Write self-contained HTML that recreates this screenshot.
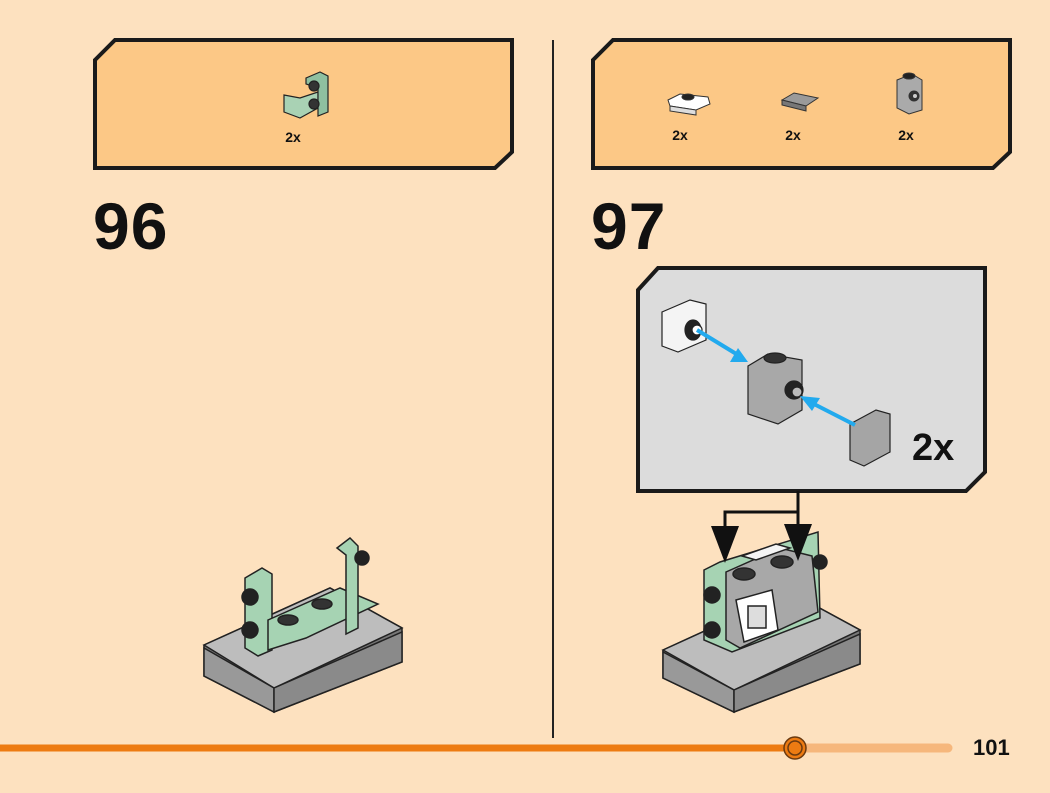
<!DOCTYPE html>
<html><head><style>html,body{margin:0;padding:0;background:#fde1bf;}svg{display:block}</style></head>
<body>
<svg width="1050" height="793" viewBox="0 0 1050 793" xmlns="http://www.w3.org/2000/svg" font-family="Liberation Sans, sans-serif">
<rect width="1050" height="793" fill="#fde1bf"/>
<polygon points="95,60 115,40 512,40 512,152 495,168 95,168" fill="#fcc886" stroke="#1a1a1a" stroke-width="4"/>
<polygon points="593,60 613,40 1010,40 1010,152 993,168 593,168" fill="#fcc886" stroke="#1a1a1a" stroke-width="4"/>
<line x1="553" y1="40" x2="553" y2="738" stroke="#222" stroke-width="2"/>
<g stroke="#222" stroke-width="1.2">
<polygon points="284,95 284,112 300,118 318,108 318,92 300,98" fill="#a9d2b4"/>
<polygon points="306,78 320,72 328,76 328,112 318,116 318,88 306,84" fill="#8fc0a0"/>
<circle cx="314" cy="86" r="5" fill="#333"/><circle cx="314" cy="104" r="5" fill="#333"/>
</g>
<text x="293" y="142" font-size="14" font-weight="bold" text-anchor="middle" fill="#111">2x</text>
<g stroke="#333" stroke-width="1">
<polygon points="668,100 680,94 708,97 710,104 696,110 670,106" fill="#fff"/>
<polygon points="670,106 696,110 696,115 670,111" fill="#ddd"/>
<ellipse cx="688" cy="97" rx="6" ry="3" fill="#222"/>
<polygon points="782,100 794,93 818,98 806,106" fill="#9a9a9a"/>
<polygon points="782,100 806,106 806,111 782,105" fill="#777"/>
<polygon points="897,80 912,74 922,80 922,110 909,114 897,108" fill="#aaa"/>
<ellipse cx="909" cy="76" rx="6" ry="3" fill="#222"/>
<circle cx="914" cy="96" r="5" fill="#333"/><circle cx="915" cy="96" r="2.5" fill="#ccc"/>
</g>
<text x="680" y="140" font-size="14" font-weight="bold" text-anchor="middle" fill="#111">2x</text>
<text x="793" y="140" font-size="14" font-weight="bold" text-anchor="middle" fill="#111">2x</text>
<text x="906" y="140" font-size="14" font-weight="bold" text-anchor="middle" fill="#111">2x</text>
<text x="93" y="249" font-size="66" font-weight="bold" fill="#111" letter-spacing="1">96</text>
<text x="591" y="249" font-size="66" font-weight="bold" fill="#111" letter-spacing="1">97</text>
<polygon points="638,290 658,268 985,268 985,472 966,491 638,491" fill="#dcdcdc" stroke="#1a1a1a" stroke-width="4"/>
<g stroke="#222" stroke-width="1.2">
<polygon points="662,312 690,300 706,304 706,340 678,352 662,346" fill="#f4f4f4"/>
<ellipse cx="693" cy="330" rx="8" ry="10" fill="#222"/><circle cx="697" cy="330" r="5" fill="#fff"/>
<polygon points="748,366 768,354 802,360 802,410 778,424 748,414" fill="#a8a8a8"/>
<ellipse cx="775" cy="358" rx="11" ry="5" fill="#333"/>
<circle cx="794" cy="390" r="9" fill="#222"/><circle cx="797" cy="392" r="5" fill="#bbb"/>
<polygon points="850,424 876,410 890,414 890,452 864,466 850,460" fill="#a5a5a5"/>
</g>
<line x1="697" y1="330" x2="738" y2="355" stroke="#22aaee" stroke-width="4"/>
<polygon points="748,362 730,362 738,348" fill="#22aaee"/>
<line x1="855" y1="425" x2="810" y2="402" stroke="#22aaee" stroke-width="4"/>
<polygon points="800,396 820,398 812,411" fill="#22aaee"/>
<text x="912" y="460" font-size="38" font-weight="bold" fill="#111">2x</text>
<!-- model 96 -->
<g stroke="#222" stroke-width="1.5">
<polygon points="204,645 330,588 402,628 402,662 274,712 204,676" fill="#777"/>
<polygon points="204,645 330,588 402,628 274,688" fill="#bdbdbd"/>
<polygon points="204,648 274,688 274,712 204,676" fill="#999"/>
<polygon points="274,688 402,632 402,662 274,712" fill="#8a8a8a"/>
<polygon points="245,578 262,568 272,574 272,650 258,656 245,648" fill="#a6d3b3"/>
<polygon points="268,620 340,588 378,604 306,638 268,650" fill="#a6d3b3"/>
<polygon points="337,548 350,538 358,546 358,628 346,634 346,555" fill="#a6d3b3"/>
<ellipse cx="288" cy="620" rx="10" ry="5" fill="#333"/>
<ellipse cx="322" cy="604" rx="10" ry="5" fill="#333"/>
<circle cx="250" cy="597" r="8" fill="#222"/><circle cx="250" cy="630" r="8" fill="#222"/>
<circle cx="362" cy="558" r="7" fill="#222"/>
</g>
<!-- model 97 -->
<g stroke="#222" stroke-width="1.5">
<polygon points="663,650 790,592 860,630 860,664 734,712 663,678" fill="#777"/>
<polygon points="663,650 790,592 860,630 734,690" fill="#bdbdbd"/>
<polygon points="663,652 734,690 734,712 663,678" fill="#999"/>
<polygon points="734,690 860,634 860,664 734,712" fill="#8a8a8a"/>
<polygon points="704,570 720,562 818,532 820,618 732,652 704,640" fill="#a6d3b3"/>
<polygon points="726,572 780,548 812,556 818,612 740,648 726,640" fill="#a8a8a8"/>
<polygon points="742,556 776,544 790,548 756,560" fill="#f4f4f4"/>
<ellipse cx="744" cy="574" rx="11" ry="6" fill="#333"/>
<ellipse cx="782" cy="562" rx="11" ry="6" fill="#333"/>
<polygon points="736,600 772,590 778,630 744,642" fill="#fff"/>
<rect x="748" y="606" width="18" height="22" fill="#ddd"/>
<circle cx="712" cy="595" r="8" fill="#222"/><circle cx="712" cy="630" r="8" fill="#222"/>
<circle cx="820" cy="562" r="7" fill="#222"/>
</g>
<!-- connector drawn on top -->
<polyline points="798,491 798,512 725,512 725,530" fill="none" stroke="#111" stroke-width="3"/>
<line x1="798" y1="512" x2="798" y2="528" stroke="#111" stroke-width="3"/>
<polygon points="711,526 739,526 725,563" fill="#111"/>
<polygon points="784,524 812,524 798,561" fill="#111"/>
<!-- footer -->
<line x1="795" y1="748" x2="948" y2="748" stroke="#f6b77c" stroke-width="9" stroke-linecap="round"/>
<line x1="0" y1="748" x2="795" y2="748" stroke="#ed7b12" stroke-width="7"/>
<circle cx="795" cy="748" r="11" fill="#ed7b12" stroke="#6b3a10" stroke-width="1.5"/>
<circle cx="795" cy="748" r="7" fill="#ed7b12" stroke="#6b3a10" stroke-width="1.5"/>
<text x="973" y="755" font-size="22" font-weight="bold" fill="#111">101</text>
</svg>
</body></html>
